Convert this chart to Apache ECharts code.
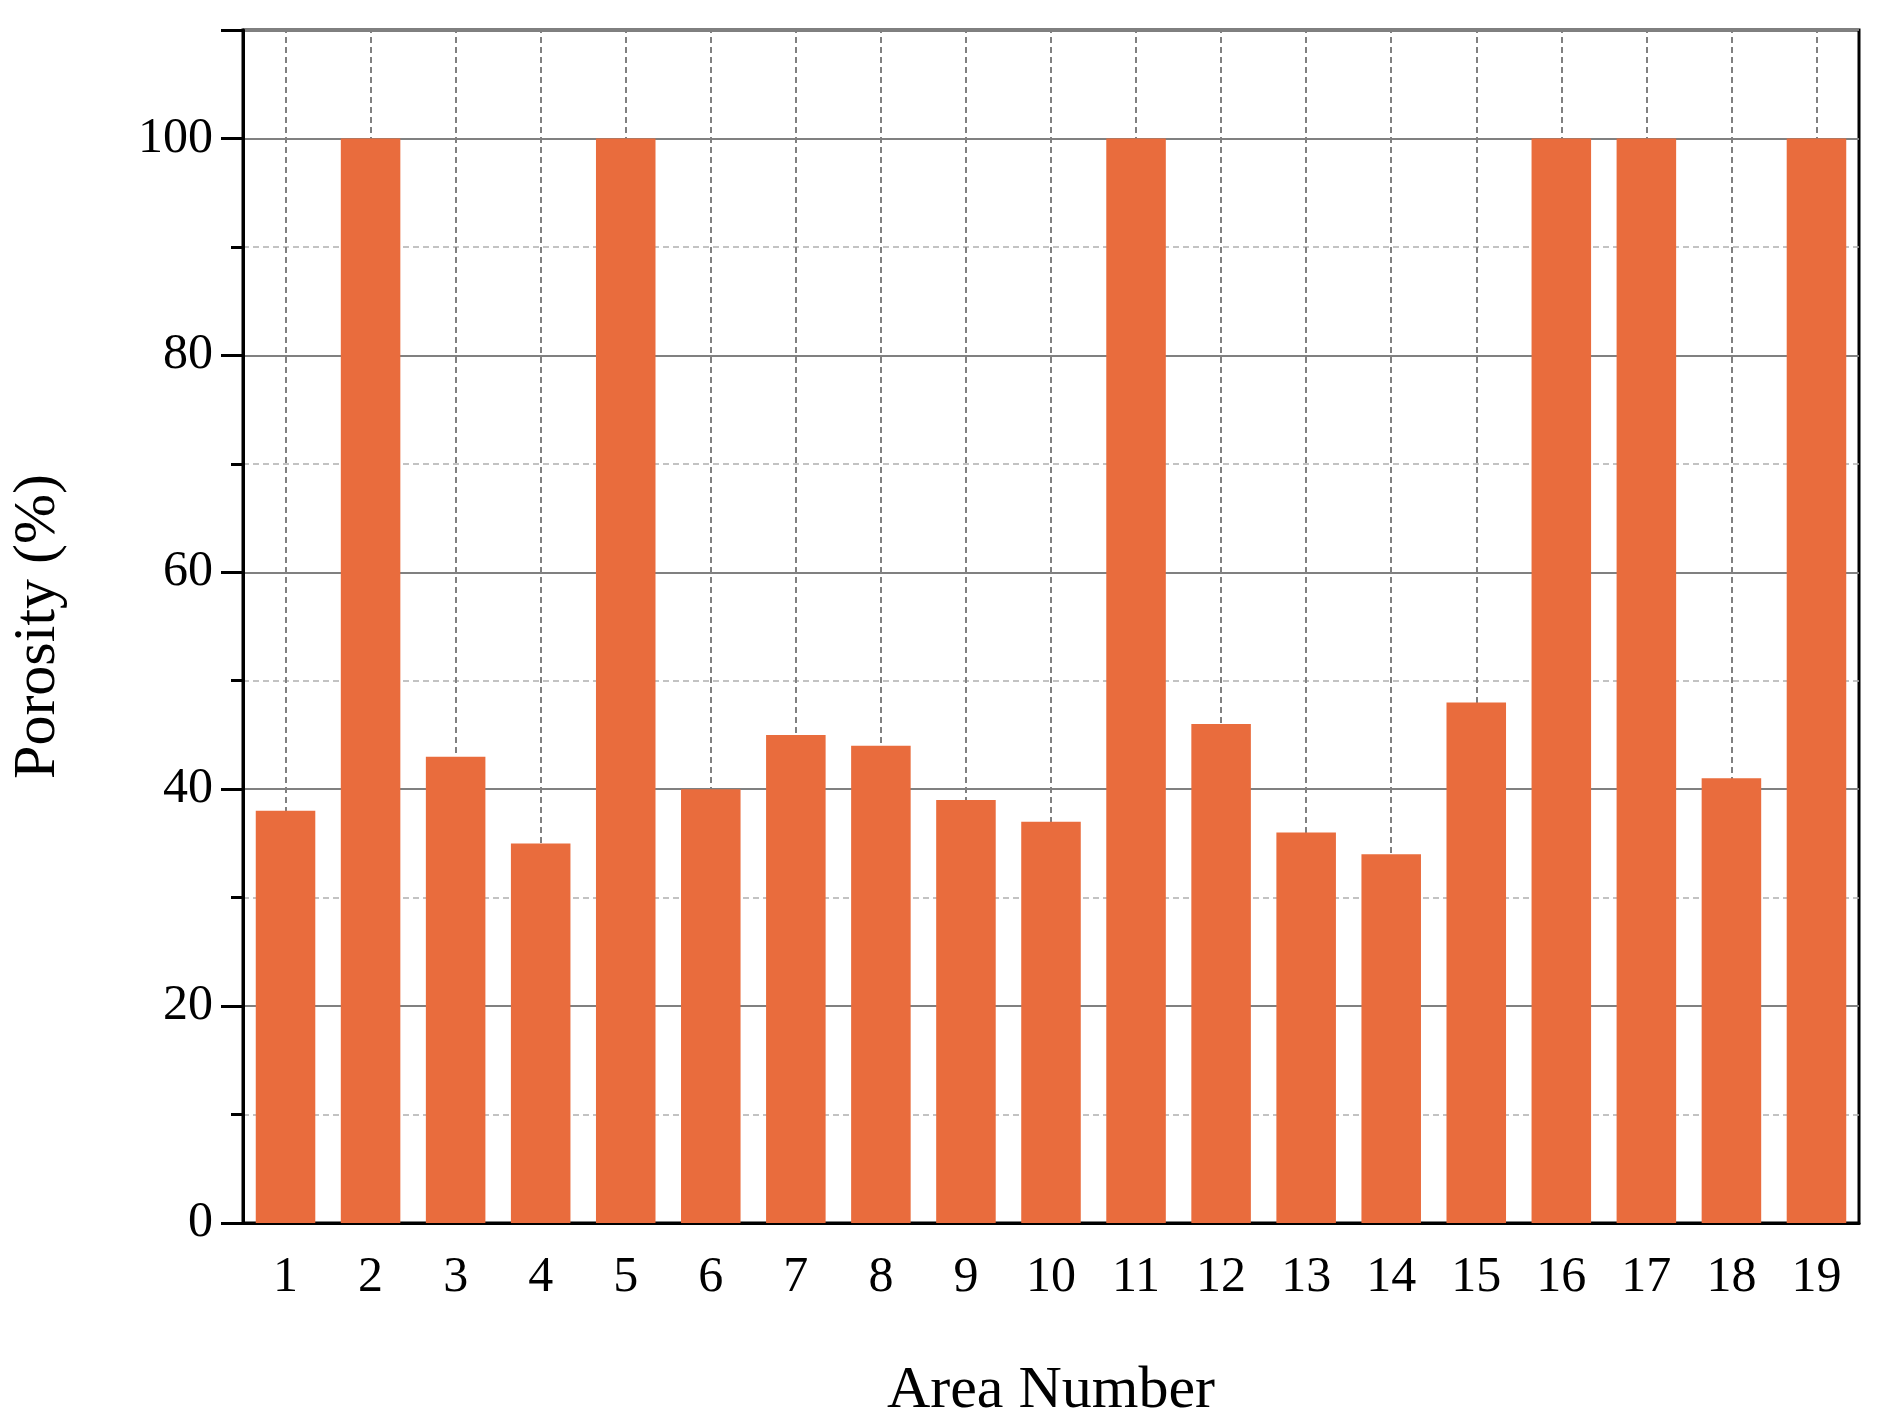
<!DOCTYPE html><html><head><meta charset="utf-8">
<script src="https://cdn.jsdelivr.net/npm/echarts@6/dist/echarts.min.js"></script>
<style>html,body{margin:0;background:#fff}#c{width:1888px;height:1426px}</style></head><body><div id="c"></div><script>
const categories=['1','2','3','4','5','6','7','8','9','10','11','12','13','14','15','16','17','18','19'];
const porosity=[38,100,43,35,100,40,45,44,39,37,100,46,36,34,48,100,100,41,100];
const yTicks=[0,20,40,60,80,100];
const F='Liberation Serif';
const c=echarts.init(document.getElementById('c'));
c.setOption({
 animation:false,
 grid:{left:242,right:29,top:30,bottom:186,show:true,borderColor:'#000',borderWidth:3,backgroundColor:'transparent'},
 xAxis:{type:'category',data:categories,
  name:'Area Number',nameLocation:'middle',nameGap:138,nameTextStyle:{fontFamily:F,fontSize:60,color:'#000'},
  axisLine:{lineStyle:{color:'#000',width:3}},
  axisTick:{alignWithLabel:true,length:12,lineStyle:{color:'#000',width:3}},
  axisLabel:{fontFamily:F,fontSize:50,color:'#000',margin:30},splitLine:{show:false}},
 yAxis:{type:'value',min:0,max:110,interval:20,
  name:'Porosity (%)',nameLocation:'middle',nameGap:175,nameTextStyle:{fontFamily:F,fontSize:60,color:'#000'},
  axisLine:{show:true,lineStyle:{color:'#000',width:3}},
  axisTick:{show:true,length:22,lineStyle:{color:'#000',width:3}},
  minorTick:{show:true,splitNumber:2,length:12,lineStyle:{color:'#000',width:3}},
  axisLabel:{fontFamily:F,fontSize:50,color:'#000',margin:30,showMaxLabel:false,
   formatter:v=>yTicks.includes(v)?String(v):''},
  splitLine:{show:true,lineStyle:{color:'#808080',width:2}},
  minorSplitLine:{show:true,lineStyle:{color:'#b0b0b0',width:1.5,type:[6,4]}}},
 series:[{type:'bar',data:porosity,barWidth:'70%',itemStyle:{color:'#E96C3D'},z:2,
  markLine:{silent:true,symbol:'none',label:{show:false},lineStyle:{color:'#808080',width:2,type:[6,4]},
   data:categories.map(c=>({xAxis:c})),z:1}}]
});
</script></body></html>
